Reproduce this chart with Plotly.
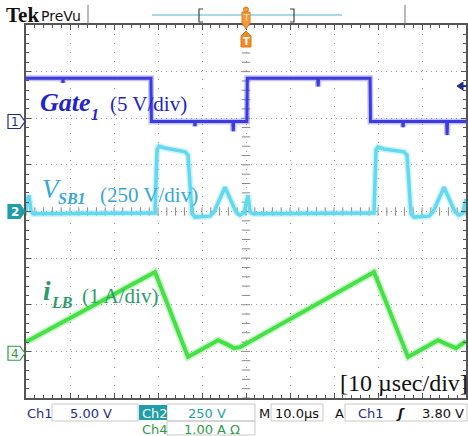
import plotly.graph_objects as go

W, H = 468, 436
GX0, GX1, GY0, GY1 = 26, 466, 25, 398   # graticule box in pixels

# ---- data: time in µs (10 µs/div), level in screen divisions (0 = centre) ----
gate_t = [0, 8.3, 8.4, 8.5, 28.4, 28.5, 38.3, 38.4, 38.5, 47.0, 47.1, 47.2, 50.2, 50.3,
          66.3, 66.4, 66.5, 78.2, 78.3, 85.6, 85.7, 85.8, 95.6, 95.7, 95.8, 100]
gate_div = [2.86, 2.86, 2.76, 2.86, 2.86, 1.93, 1.93, 1.83, 1.93, 1.93, 1.72, 1.93, 1.93, 2.86,
            2.86, 2.68, 2.86, 2.86, 1.93, 1.93, 1.81, 1.93, 1.93, 1.64, 1.93, 1.93]

vsb_t = [0, 0.23, 0.68, 1.14, 1.59, 29.32, 29.77, 30.23, 31.59, 36.14, 36.82, 37.73, 38.41,
         41.82, 42.73, 45.23, 47.73, 48.64, 49.55, 50.45, 50.91, 51.59, 79.09, 79.55, 80.0,
         81.36, 85.91, 86.59, 87.5, 88.18, 91.59, 92.5, 95.0, 97.5, 98.41, 99.32, 100]
vsb_div = [-0.01, 0.25, 0.35, 0.01, -0.05, -0.03, 1.32, 1.40, 1.36, 1.28, 1.21, -0.05, -0.12,
           -0.10, -0.01, 0.52, -0.01, -0.08, -0.03, 0.35, -0.01, -0.05, -0.03, 1.32, 1.38,
           1.34, 1.28, 1.21, -0.05, -0.12, -0.10, -0.01, 0.52, -0.01, -0.08, -0.03, 0.27]

ilb_t = [0, 29.32, 36.82, 39.55, 43.64, 45.45, 47.27, 48.64, 79.09, 86.82, 89.55, 93.64,
         95.45, 97.73, 100]
ilb_div = [-2.80, -1.30, -3.12, -2.97, -2.76, -2.84, -2.93, -2.91, -1.30, -3.12, -2.97, -2.76,
           -2.84, -2.93, -2.78]

# channel settings (Ch1 5 V/div, ground marker positions in div)
ch1_scale, ch1_pos = 5.0, 1.93
ch2_pos = 0.0
ch4_pos = -3.04
trig_level = 3.80

status_row1 = ["Ch1", "5.00 V", "Ch2", "250 V", "M", "10.0µs", "A", "Ch1", "3.80 V"]
status_row2 = ["Ch4", "1.00 A Ω"]

# colours
C_GATE, C_GATE_TXT = "#3b3be0", "#2323c8"
C_VSB, C_VSB_TXT = "#62d9ef", "#38a6d6"
C_ILB, C_ILB_TXT = "#45e045", "#2e9a6c"
C_NAVY = "#1f2d8a"
C_TEAL = "#1e9ea6"
C_GREEN4 = "#2f9a45"


def px(x):
    return x / W


def py(y):
    return 1 - y / H


def div_to_py(d):
    return (GY0 + GY1) / 2 - d * (GY1 - GY0) / 8


fig = go.Figure()

# graticule centre marks
cx = [i * 2 for i in range(51)]
fig.add_trace(go.Scatter(x=cx, y=[0] * len(cx), mode="markers", hoverinfo="skip",
                         marker=dict(symbol="line-ns", size=6, line=dict(color="#888", width=1)),
                         showlegend=False))
cy = [-4 + i * 0.2 for i in range(41)]
fig.add_trace(go.Scatter(x=[50] * len(cy), y=cy, mode="markers", hoverinfo="skip",
                         marker=dict(symbol="line-ew", size=6, line=dict(color="#888", width=1)),
                         showlegend=False))

for tt, vv, col, w in ((ilb_t, ilb_div, C_ILB, 4), (vsb_t, vsb_div, C_VSB, 3.5),
                       (gate_t, gate_div, C_GATE, 3)):
    # soft noise band, then the trace
    fig.add_trace(go.Scatter(x=tt, y=vv, mode="lines", line=dict(color=col, width=w + 3),
                             opacity=0.3, hoverinfo="skip", showlegend=False))
    fig.add_trace(go.Scatter(x=tt, y=vv, mode="lines", line=dict(color=col, width=w),
                             showlegend=False))

ann = []
shapes = []


def text(x, y, s, size, color, family="Liberation Serif", xanchor="left", **kw):
    ann.append(dict(x=px(x), y=py(y), xref="paper", yref="paper", text=s, showarrow=False,
                    xanchor=xanchor, yanchor="middle",
                    font=dict(size=size, color=color, family=family), **kw))


# channel labels
text(38, 102, "<b><i>Gate</i></b>", 26, C_GATE_TXT)
text(89, 114, "<b><i>1</i></b>", 16, C_GATE_TXT)
text(108, 104, "(5 V/div)", 21, C_GATE_TXT)

text(40, 189, "<i>V</i>", 27, C_VSB_TXT)
text(56, 198, "<b><i>SB1</i></b>", 16, C_VSB_TXT)
text(98, 195, "(250 V/div)", 21, C_VSB_TXT)

text(41, 291, "<b><i>i</i></b>", 27, C_ILB_TXT)
text(49, 302, "<b><i>LB</i></b>", 16, C_ILB_TXT)
text(80, 296, "(1 A/div)", 21, C_ILB_TXT)

text(338, 383, "[10 µsec/div]", 24, "#111")

# top bar
text(4, 15, "<b>Tek</b>", 21, "#111", family="Liberation Serif")
text(39, 16, "PreVu", 14, "#111", family="DejaVu Sans")
for xx in (88, 405):
    shapes.append(dict(type="line", xref="paper", yref="paper", x0=px(xx), x1=px(xx),
                       y0=py(5), y1=py(24), line=dict(color="#777", width=1)))
shapes.append(dict(type="line", xref="paper", yref="paper", x0=px(152), x1=px(342),
                   y0=py(15), y1=py(15), line=dict(color="#a9d8e8", width=2)))
for x0, x1 in ((203, 199), (290, 294)):
    shapes.append(dict(type="path", xref="paper", yref="paper",
                       path=f"M {px(x0)},{py(9)} L {px(x1)},{py(9)} L {px(x1)},{py(22)} L {px(x0)},{py(22)}",
                       line=dict(color="#444", width=1.2)))
# trigger position markers (orange)
tx = (GX0 + GX1) / 2
shapes.append(dict(type="path", xref="paper", yref="paper",
                   path=(f"M {px(tx-4)},{py(12)} L {px(tx+4)},{py(12)} L {px(tx+4)},{py(23)} "
                         f"L {px(tx)},{py(29)} L {px(tx-4)},{py(23)} Z"),
                   fillcolor="#f39a3c", line=dict(color="#e07818", width=1)))
shapes.append(dict(type="circle", xref="paper", yref="paper", x0=px(tx-2.5), x1=px(tx+2.5),
                   y0=py(12), y1=py(7), fillcolor="#f39a3c", line=dict(color="#e07818", width=1)))
shapes.append(dict(type="path", xref="paper", yref="paper",
                   path=(f"M {px(tx)},{py(31)} L {px(tx+5)},{py(36)} L {px(tx+5)},{py(47)} "
                         f"L {px(tx-5)},{py(47)} L {px(tx-5)},{py(36)} Z"),
                   fillcolor="#f28a22", line=dict(color="#e07818", width=1)))
text(tx, 18, "T", 9, "#fde3c0", family="DejaVu Sans", xanchor="center")
text(tx, 41, "<b>T</b>", 10, "#ffffff", family="DejaVu Sans", xanchor="center")

# trigger level arrow (right side)
tly = div_to_py(ch1_pos + trig_level / ch1_scale)
shapes.append(dict(type="path", xref="paper", yref="paper",
                   path=f"M {px(457)},{py(tly)} L {px(463)},{py(tly-4)} L {px(463)},{py(tly+4)} Z",
                   fillcolor=C_NAVY, line=dict(color=C_NAVY, width=1)))
shapes.append(dict(type="line", xref="paper", yref="paper", x0=px(462), x1=px(467),
                   y0=py(tly), y1=py(tly), line=dict(color=C_NAVY, width=2)))


# channel ground markers on the left
def marker(label, pos, col, filled):
    yc = div_to_py(pos)
    shapes.append(dict(type="path", xref="paper", yref="paper",
                       path=(f"M {px(8)},{py(yc-7)} L {px(20)},{py(yc-7)} L {px(25)},{py(yc)} "
                             f"L {px(20)},{py(yc+7)} L {px(8)},{py(yc+7)} Z"),
                       fillcolor=col if filled else "white", line=dict(color=col, width=1.2)))
    text(14.5, yc + 0.5, f"<b>{label}</b>" if filled else label, 12,
         "white" if filled else col, family="DejaVu Sans", xanchor="center")


marker("1", ch1_pos, C_NAVY, False)
marker("2", ch2_pos, C_TEAL, True)
marker("4", ch4_pos, C_GREEN4, False)

# status bar
for x0, x1, y0, y1 in ((52, 138, 404, 421), (167, 255, 404, 421), (271, 323, 404, 421),
                       (345, 467, 404, 421), (167, 255, 421, 435)):
    shapes.append(dict(type="rect", xref="paper", yref="paper", x0=px(x0), x1=px(x1),
                       y0=py(y0), y1=py(y1), line=dict(color="#c8c8c8", width=1)))
shapes.append(dict(type="rect", xref="paper", yref="paper", x0=px(139), x1=px(167),
                   y0=py(405), y1=py(420), fillcolor=C_TEAL, line=dict(width=0)))
SB = "DejaVu Sans"
text(25, 413, status_row1[0], 13, C_NAVY, family=SB)
text(68, 413, status_row1[1], 13, C_NAVY, family=SB)
text(140, 413, status_row1[2], 13, "white", family=SB)
text(186, 413, status_row1[3], 13, C_TEAL, family=SB)
text(257, 413, status_row1[4], 13, "#111", family=SB)
text(273, 413, status_row1[5], 13, "#111", family=SB)
text(333, 413, status_row1[6], 13, "#111", family=SB)
text(356, 413, status_row1[7], 13, C_NAVY, family=SB)
text(394, 413, "<b><i>ʃ</i></b>", 13, "#111", family=SB)
text(466, 413, status_row1[8], 13, "#111", family=SB, xanchor="right")
text(140, 429, status_row2[0], 13, C_GREEN4, family=SB)
text(182, 429, status_row2[1], 13, C_GREEN4, family=SB)

axis_common = dict(showticklabels=False, showline=True, linecolor="#555", linewidth=2,
                   mirror="ticks", ticks="inside", ticklen=5, tickcolor="#555", zeroline=False,
                   showgrid=True, gridcolor="#9a9a9a", gridwidth=1, fixedrange=True)
fig.update_layout(
    width=W, height=H, margin=dict(l=0, r=0, t=0, b=0),
    paper_bgcolor="white", plot_bgcolor="white",
    xaxis=dict(range=[0, 100], domain=[px(GX0), px(GX1)], dtick=10, tick0=0,
               griddash="1px,8px",
               minor=dict(dtick=2, ticks="inside", ticklen=3, tickcolor="#555", showgrid=False),
               **axis_common),
    yaxis=dict(range=[-4, 4], domain=[py(GY1), py(GY0)], dtick=1, tick0=0,
               griddash="1px,4px",
               minor=dict(dtick=0.2, ticks="inside", ticklen=3, tickcolor="#555", showgrid=False),
               **axis_common),
    annotations=ann, shapes=shapes, showlegend=False,
)
fig.write_html("out.html")
